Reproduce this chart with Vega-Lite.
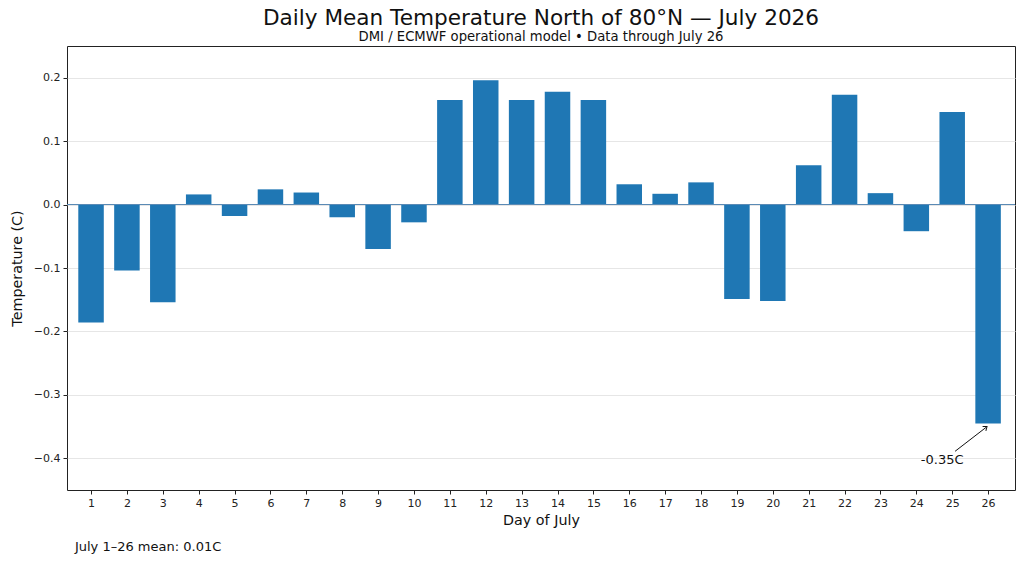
{
  "$schema": "https://vega.github.io/schema/vega-lite/v6.json",
  "autosize": {"type": "none"},
  "width": 948,
  "height": 444,
  "padding": {"left": 67, "top": 46, "right": 9, "bottom": 78},
  "background": "white",
  "config": {
    "font": "DejaVu Sans",
    "view": {"stroke": "#222", "strokeWidth": 1},
    "axis": {
      "labelFont": "DejaVu Sans",
      "titleFont": "DejaVu Sans",
      "labelColor": "#222",
      "titleColor": "#111",
      "tickColor": "#222",
      "domain": false
    }
  },
  "title": {
    "text": "Daily Mean Temperature North of 80°N — July 2026",
    "subtitle": "DMI / ECMWF operational model • Data through July 26",
    "anchor": "middle",
    "frame": "group",
    "font": "DejaVu Sans",
    "fontSize": 21.6,
    "fontWeight": "normal",
    "color": "#111",
    "subtitleFont": "DejaVu Sans",
    "subtitleFontSize": 13.2,
    "subtitleColor": "#111",
    "subtitlePadding": 1,
    "offset": 3
  },
  "data": {
    "values": [
      {"day": 1, "temp": -0.186},
      {"day": 2, "temp": -0.104},
      {"day": 3, "temp": -0.154},
      {"day": 4, "temp": 0.016},
      {"day": 5, "temp": -0.018},
      {"day": 6, "temp": 0.024},
      {"day": 7, "temp": 0.019},
      {"day": 8, "temp": -0.020},
      {"day": 9, "temp": -0.070},
      {"day": 10, "temp": -0.028},
      {"day": 11, "temp": 0.165},
      {"day": 12, "temp": 0.196},
      {"day": 13, "temp": 0.165},
      {"day": 14, "temp": 0.178},
      {"day": 15, "temp": 0.165},
      {"day": 16, "temp": 0.032},
      {"day": 17, "temp": 0.017},
      {"day": 18, "temp": 0.035},
      {"day": 19, "temp": -0.149},
      {"day": 20, "temp": -0.152},
      {"day": 21, "temp": 0.062},
      {"day": 22, "temp": 0.173},
      {"day": 23, "temp": 0.018},
      {"day": 24, "temp": -0.042},
      {"day": 25, "temp": 0.146},
      {"day": 26, "temp": -0.345}
    ]
  },
  "layer": [
    {
      "mark": {"type": "bar", "color": "#1f77b4", "width": 25.5},
      "encoding": {
        "x": {
          "field": "day",
          "type": "quantitative",
          "scale": {"domain": [0.33, 26.75], "nice": false, "zero": false, "padding": 0},
          "axis": {
            "values": [1, 2, 3, 4, 5, 6, 7, 8, 9, 10, 11, 12, 13, 14, 15, 16, 17, 18, 19, 20, 21, 22, 23, 24, 25, 26],
            "tickCount": 26,
            "format": "d",
            "grid": false,
            "labelOverlap": false,
            "title": "Day of July",
            "titleFontSize": 14.3,
            "titleFontWeight": "normal",
            "titlePadding": 5,
            "labelFontSize": 11,
            "labelPadding": 3,
            "tickSize": 4
          }
        },
        "y": {
          "field": "temp",
          "type": "quantitative",
          "scale": {"domain": [-0.45, 0.25], "nice": false, "padding": 0},
          "axis": {
            "values": [-0.4, -0.3, -0.2, -0.1, 0, 0.1, 0.2],
            "format": ".1f",
            "grid": true,
            "gridColor": "#e6e6e6",
            "gridWidth": 1,
            "labelOverlap": false,
            "title": "Temperature (C)",
            "titleFontSize": 14.3,
            "titleFontWeight": "normal",
            "titlePadding": 9,
            "labelFontSize": 11,
            "labelPadding": 3,
            "tickSize": 4
          }
        }
      }
    },
    {
      "data": {"values": [{}]},
      "mark": {"type": "rule", "color": "#5a8ab5", "strokeWidth": 1.1},
      "encoding": {"y": {"datum": 0}}
    },
    {
      "data": {"values": [{}]},
      "mark": {"type": "rule", "color": "#111", "strokeWidth": 1},
      "encoding": {
        "x": {"datum": 25.08},
        "y": {"datum": -0.389},
        "x2": {"datum": 25.95},
        "y2": {"datum": -0.351}
      }
    },
    {
      "data": {"values": [{}]},
      "mark": {
        "type": "point",
        "shape": "M-0.7,0.9L0,0L0.7,0.9",
        "filled": false,
        "stroke": "#111",
        "strokeWidth": 1,
        "size": 60,
        "angle": 53,
        "opacity": 1
      },
      "encoding": {
        "x": {"datum": 25.97},
        "y": {"datum": -0.35}
      }
    },
    {
      "data": {"values": [{}]},
      "mark": {"type": "text", "fontSize": 13, "color": "#111", "align": "center", "baseline": "middle", "font": "DejaVu Sans"},
      "encoding": {
        "x": {"datum": 24.72},
        "y": {"datum": -0.403},
        "text": {"value": "-0.35C"}
      }
    },
    {
      "data": {"values": [{}]},
      "mark": {"type": "text", "fontSize": 13, "color": "#111", "align": "left", "baseline": "middle", "font": "DejaVu Sans", "clip": false},
      "encoding": {
        "x": {"datum": 0.55},
        "y": {"datum": -0.54},
        "text": {"value": "July 1–26 mean: 0.01C"}
      }
    }
  ]
}
